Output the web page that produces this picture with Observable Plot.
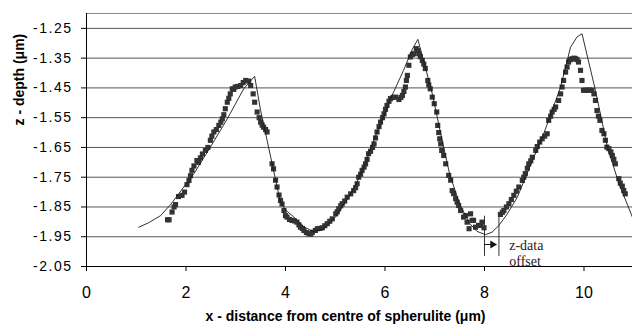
<!DOCTYPE html>
<html>
<head>
<meta charset="utf-8">
<script src="https://cdn.jsdelivr.net/npm/d3@7"></script>
<script src="https://cdn.jsdelivr.net/npm/@observablehq/plot@0.6"></script>
<style>
  html, body { margin: 0; padding: 0; background: #fff; }
  #chart { width: 632px; height: 326px; }
  g[aria-label="y-axis tick label"] text { letter-spacing: 1.5px; }
</style>
</head>
<body>
<div id="chart"></div>
<script>
// measured z-depth data (square markers)
const measX = [1.63,1.66,1.72,1.76,1.79,1.85,1.92,1.97,2.02,2.06,2.09,2.12,2.16,2.22,2.25,2.29,2.33,2.39,2.44,2.49,2.52,2.56,2.61,2.66,2.70,2.73,2.76,2.79,2.83,2.86,2.89,2.93,2.96,2.99,3.04,3.10,3.15,3.20,3.26,3.30,3.35,3.38,3.43,3.47,3.50,3.53,3.56,3.60,3.63,3.73,3.76,3.80,3.83,3.87,3.90,3.93,3.97,4.00,4.03,4.08,4.13,4.18,4.23,4.27,4.30,4.34,4.37,4.42,4.47,4.51,4.54,4.60,4.64,4.69,4.74,4.79,4.84,4.89,4.94,5.01,5.04,5.07,5.11,5.14,5.19,5.24,5.31,5.37,5.41,5.44,5.47,5.51,5.54,5.58,5.61,5.64,5.67,5.71,5.75,5.78,5.81,5.84,5.88,5.91,5.95,5.98,6.01,6.04,6.08,6.11,6.16,6.21,6.28,6.32,6.35,6.38,6.41,6.43,6.45,6.48,6.51,6.55,6.58,6.63,6.66,6.68,6.71,6.75,6.78,6.81,6.86,6.88,6.91,6.95,6.99,7.04,7.06,7.08,7.10,7.12,7.14,7.18,7.22,7.28,7.32,7.35,7.38,7.42,7.45,7.48,7.52,7.58,7.62,7.65,7.69,7.72,7.75,7.78,7.82,7.88,7.92,7.95,7.99,8.32,8.36,8.39,8.44,8.49,8.54,8.59,8.64,8.69,8.76,8.79,8.82,8.86,8.89,8.93,8.96,9.03,9.06,9.11,9.16,9.21,9.26,9.29,9.33,9.36,9.40,9.43,9.49,9.53,9.56,9.59,9.63,9.66,9.69,9.73,9.76,9.80,9.83,9.86,9.89,9.93,9.96,9.99,10.03,10.06,10.11,10.16,10.20,10.23,10.26,10.29,10.32,10.36,10.40,10.43,10.46,10.50,10.54,10.57,10.60,10.63,10.70,10.73,10.77,10.80,10.83];
const measZ = [-1.893,-1.893,-1.867,-1.850,-1.842,-1.815,-1.811,-1.800,-1.775,-1.761,-1.745,-1.727,-1.712,-1.694,-1.700,-1.685,-1.672,-1.660,-1.650,-1.626,-1.612,-1.598,-1.590,-1.576,-1.565,-1.554,-1.540,-1.520,-1.498,-1.485,-1.470,-1.453,-1.455,-1.447,-1.445,-1.442,-1.432,-1.425,-1.427,-1.442,-1.470,-1.498,-1.531,-1.550,-1.565,-1.575,-1.582,-1.590,-1.598,-1.705,-1.722,-1.760,-1.783,-1.810,-1.828,-1.840,-1.862,-1.879,-1.884,-1.892,-1.895,-1.897,-1.901,-1.910,-1.918,-1.922,-1.929,-1.936,-1.940,-1.941,-1.935,-1.929,-1.923,-1.922,-1.920,-1.913,-1.906,-1.898,-1.890,-1.873,-1.866,-1.856,-1.846,-1.839,-1.830,-1.817,-1.806,-1.795,-1.785,-1.772,-1.750,-1.740,-1.727,-1.716,-1.705,-1.690,-1.671,-1.663,-1.650,-1.638,-1.618,-1.598,-1.580,-1.565,-1.550,-1.537,-1.522,-1.509,-1.495,-1.486,-1.482,-1.481,-1.489,-1.482,-1.475,-1.462,-1.447,-1.425,-1.408,-1.374,-1.346,-1.338,-1.335,-1.318,-1.325,-1.335,-1.345,-1.358,-1.370,-1.385,-1.425,-1.440,-1.453,-1.481,-1.503,-1.531,-1.576,-1.600,-1.621,-1.638,-1.660,-1.677,-1.705,-1.744,-1.760,-1.795,-1.805,-1.822,-1.834,-1.845,-1.862,-1.884,-1.879,-1.901,-1.923,-1.873,-1.895,-1.895,-1.918,-1.912,-1.912,-1.901,-1.920,-1.875,-1.868,-1.862,-1.850,-1.839,-1.825,-1.811,-1.797,-1.783,-1.761,-1.750,-1.738,-1.720,-1.705,-1.695,-1.683,-1.660,-1.647,-1.632,-1.621,-1.612,-1.604,-1.559,-1.545,-1.531,-1.522,-1.514,-1.492,-1.470,-1.447,-1.425,-1.397,-1.380,-1.363,-1.355,-1.352,-1.350,-1.352,-1.355,-1.363,-1.391,-1.425,-1.458,-1.458,-1.458,-1.457,-1.458,-1.470,-1.492,-1.526,-1.545,-1.559,-1.593,-1.604,-1.626,-1.649,-1.654,-1.665,-1.677,-1.690,-1.705,-1.755,-1.770,-1.780,-1.795,-1.806];

// model profile (thin line)
const modelX = [1.05,1.25,1.49,1.70,1.90,2.16,2.49,2.83,3.16,3.38,3.50,3.63,3.76,3.89,4.00,4.17,4.35,4.55,4.75,5.00,5.20,5.40,5.60,5.80,6.00,6.08,6.37,6.55,6.66,6.81,6.95,7.12,7.30,7.50,7.70,7.85,8.02,8.15,8.29,8.46,8.66,8.90,9.19,9.53,9.73,9.86,9.96,10.23,10.47,10.70,10.975];
const modelZ = [-1.918,-1.903,-1.879,-1.840,-1.795,-1.738,-1.649,-1.554,-1.453,-1.411,-1.526,-1.626,-1.727,-1.828,-1.860,-1.884,-1.915,-1.932,-1.925,-1.885,-1.835,-1.780,-1.705,-1.615,-1.535,-1.498,-1.392,-1.320,-1.287,-1.380,-1.469,-1.604,-1.740,-1.840,-1.905,-1.932,-1.943,-1.935,-1.912,-1.873,-1.817,-1.720,-1.604,-1.447,-1.313,-1.279,-1.268,-1.458,-1.649,-1.770,-1.885];

// axes
const xTicks = [0, 2, 4, 6, 8, 10];
const xTickLabels = ["0", "2", "4", "6", "8", "10"];
const yTicks = [-1.25, -1.35, -1.45, -1.55, -1.65, -1.75, -1.85, -1.95, -2.05];
const yTickLabels = ["-1.25", "-1.35", "-1.45", "-1.55", "-1.65", "-1.75", "-1.85", "-1.95", "-2.05"];
const xDomain = [0, 10.975];
const yDomain = [-2.05, -1.20];
const xTitle = "x - distance from centre of spherulite (\u03bcm)";
const yTitle = "z - depth (\u03bcm)";

// z-data offset annotation
const offsetX = [8.0, 8.29];
const offsetZ = [-1.881, -2.016];
const arrowZ = -1.976;
const arrowHeadX = 8.162;
const offsetLabel = "z-data\noffset";
const offsetLabelX = 8.497;
const offsetLabelZ = -2.048;

const meas = measX.map((x, i) => ({x, z: measZ[i]}));
const model = modelX.map((x, i) => ({x, z: modelZ[i]}));
const xLab = new Map(xTicks.map((t, i) => [t, xTickLabels[i]]));
const yLab = new Map(yTicks.map((t, i) => [t, yTickLabels[i]]));

const chart = Plot.plot({
  width: 632,
  height: 326,
  marginLeft: 86,
  marginRight: 0,
  marginTop: 13,
  marginBottom: 60,
  style: {fontFamily: "'Liberation Sans', Arial, sans-serif", background: "#fff", overflow: "visible"},
  x: {domain: xDomain},
  y: {domain: yDomain},
  marks: [
    Plot.ruleY([yDomain[1]], {stroke: "#8a8a8a", strokeWidth: 1}),
    Plot.ruleY(yTicks, {stroke: "#555", strokeWidth: 1}),
    Plot.text([offsetLabel], {x: offsetLabelX, y: offsetLabelZ, textAnchor: "start", lineAnchor: "bottom", lineHeight: 1.11, fontFamily: "'Liberation Serif', 'Times New Roman', serif", fontSize: 14, fill: "#222"}),
    Plot.ruleX(offsetX, {y1: offsetZ[0], y2: offsetZ[1], stroke: "#333", strokeWidth: 1}),
    Plot.ruleY([arrowZ], {x1: offsetX[0], x2: arrowHeadX, stroke: "#111", strokeWidth: 1}),
    Plot.dot([arrowHeadX], {x: d => d, y: arrowZ, symbol: "triangle", r: 2.9, rotate: 90, fill: "#111", stroke: "none"}),
    Plot.dot(meas, {x: "x", y: "z", symbol: "square", r: 2.9, fill: "#333", stroke: "none"}),
    Plot.line(model, {x: "x", y: "z", stroke: "#1a1a1a", strokeWidth: 0.9}),
    Plot.ruleX([xDomain[0]], {stroke: "#000", strokeWidth: 1}),
    Plot.ruleY([yDomain[0]], {stroke: "#000", strokeWidth: 1}),
    Plot.axisY(yTicks, {tickSize: 5, tickPadding: 9, fontSize: 14, tickFormat: d => yLab.get(d), stroke: "#000", fill: "#000", label: null}),
    Plot.axisX(xTicks, {tickSize: 5, tickPadding: 15, fontSize: 16, tickFormat: d => xLab.get(d), stroke: "#000", fill: "#000", label: null}),
    Plot.text([xTitle], {frameAnchor: "bottom", lineAnchor: "bottom", dx: -14, dy: 54, fontSize: 14, fontWeight: "bold", fill: "#000"}),
    Plot.text([yTitle], {frameAnchor: "left", lineAnchor: "bottom", rotate: -90, dx: -63, dy: -14.5, fontSize: 14, fontWeight: "bold", fill: "#000"})
  ]
});
document.getElementById("chart").appendChild(chart);
</script>
</body>
</html>
